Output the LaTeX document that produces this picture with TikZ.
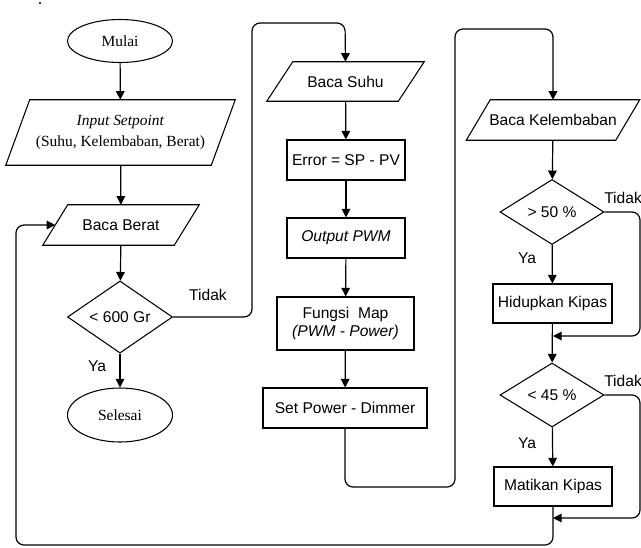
\documentclass[tikz,border=0pt]{standalone}
\usepackage{fontspec}
\setmainfont{Liberation Serif}
\newfontfamily\arialf{Liberation Sans}
\usetikzlibrary{shapes.geometric,arrows.meta}
\tikzset{
  shapeline/.style={draw=black, line width=0.8pt},
  sanstext/.style={font=\arialf\fontsize{11.7}{13}\selectfont, text=black},
  seriftext/.style={font=\fontsize{11.6}{15.5}\selectfont, text=black},
  paratext/.style={draw=none, inner sep=0pt, align=center},
  termbox/.style={shapeline, ellipse, inner sep=0pt, minimum width=78.75pt, seriftext},
  procbox/.style={shapeline, rectangle, inner sep=0pt, align=center, sanstext},
  decbox/.style={shapeline, diamond, inner sep=0pt, minimum width=78.75pt, minimum height=48pt, sanstext},
  arr/.style={line width=0.9pt, -{Triangle[length=6.5pt,width=6.5pt]}},
  link/.style={line width=0.9pt, rounded corners=6pt},
  lbl/.style={sanstext, inner sep=0pt}
}
% #1 name, #2 position, #3 width, #4 height, #5 half slant, #6 text style, #7 text
\newcommand\paranode[7]{%
  \node[paratext, #6, minimum width=#3, minimum height=#4] (#1) at #2 {#7};
  \draw[shapeline] ([xshift=#5]#1.north west) -- ([xshift=#5]#1.north east) -- ([xshift=-#5]#1.south east) -- ([xshift=-#5]#1.south west) -- cycle;
}
\begin{document}
\begin{tikzpicture}[x=0.75pt,y=-0.75pt]
\useasboundingbox (0,0) rectangle (641,547);
\fill[black] (40,3) circle (0.9pt);

% left column
\node[termbox, minimum height=32.25pt] (mulai) at (120,41) {Mulai};
\paranode{inp}{(120.5,132.5)}{153.75pt}{48.75pt}{9pt}{seriftext}{\textit{Input Setpoint}\\(Suhu, Kelembaban, Berat)}
\paranode{bb}{(121,225)}{98.25pt}{30pt}{9.375pt}{sanstext}{Baca Berat}
\node[decbox] (d1) at (120,317) {< 600 Gr};
\node[termbox, minimum height=40.5pt] (selesai) at (120,415) {Selesai};

% middle column
\paranode{bs}{(345.5,81.5)}{98.25pt}{29.25pt}{9.75pt}{sanstext}{Baca Suhu}
\node[procbox, minimum width=88.5pt, minimum height=30pt] (err) at (346,160) {Error = SP - PV};
\node[procbox, minimum width=88.5pt, minimum height=30pt] (pwm) at (346,238) {\textit{Output PWM}};
\node[procbox, minimum width=102.75pt, minimum height=39.75pt] (map) at (345.5,323.5) {Fungsi~ Map\\\textit{(PWM - Power)}};
\node[procbox, minimum width=123pt, minimum height=30pt] (dim) at (345,408) {Set Power - Dimmer};

% right column
\paranode{bk}{(553,120)}{111.75pt}{30pt}{9pt}{sanstext}{Baca Kelembaban}
\node[decbox, minimum width=78pt, minimum height=48.75pt] (d2) at (552,212) {> 50 \%};
\node[procbox, minimum width=89.25pt, minimum height=29.25pt] (hid) at (552.5,303.5) {Hidupkan Kipas};
\node[decbox, minimum width=78pt] (d3) at (552,395) {< 45 \%};
\node[procbox, minimum width=88.5pt, minimum height=29.25pt] (mat) at (553,486.5) {Matikan Kipas};

\coordinate (j1) at (553,336);
\coordinate (j2) at (553,518);

% connectors left
\draw[arr] (mulai) -- (inp);
\draw[arr] (inp) -- (bb);
\draw[arr] (bb) -- (d1);
\draw[arr] (d1) -- (selesai);
\draw[arr, link] (d1.east) -- (252,317) -- (252,23) -- (345,23) -- (bs.north);

% middle
\draw[arr] (bs) -- (err);
\draw[arr] (err) -- (pwm);
\draw[arr] (pwm) -- (map);
\draw[arr] (map) -- (dim);
\draw[arr, link] (dim.south) -- (345,487) -- (455,487) -- (455,29) -- (553,29) -- (bk.north);

% right
\draw[arr] (bk) -- (d2);
\draw[arr] (d2) -- (hid);
\draw[arr, link] (d2.east) -- (640,212) -- (640,336) -- (j1);
\draw[arr] (hid) -- (d3);
\draw[arr] (d3) -- (mat);
\draw[arr, link] (d3.east) -- (640,395) -- (640,518) -- (j2);
\draw[arr, link] (mat.south) -- (553,545) -- (16,545) -- (16,225) -- (bb.west);

% labels
\node[lbl] at (208,295) {Tidak};
\node[lbl] at (97,366) {Ya};
\node[lbl, anchor=west] at (604,198) {Tidak};
\node[lbl] at (527,258) {Ya};
\node[lbl, anchor=west] at (604,381) {Tidak};
\node[lbl] at (527,443) {Ya};
\end{tikzpicture}
\end{document}
